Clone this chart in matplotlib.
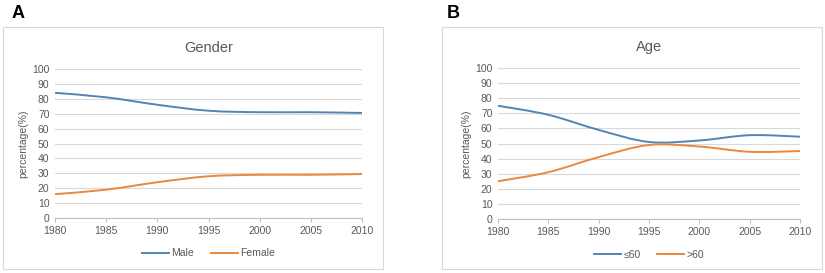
import numpy as np
import matplotlib
matplotlib.use('Agg')
import matplotlib.pyplot as plt
from matplotlib.path import Path
from matplotlib.patches import PathPatch, Rectangle
from matplotlib.lines import Line2D

plt.rcParams['font.family'] = ['Liberation Sans', 'DejaVu Sans']

# data
years = [1980, 1985, 1990, 1995, 2000, 2005, 2010]
male = [84, 81, 76, 72, 71, 71, 70.5]
female = [16, 19, 24, 28, 29, 29, 29.5]
age_le60 = [75, 69, 59, 51, 52, 55.5, 54.5]
age_gt60 = [25, 31, 41, 49, 48, 44.5, 45]

BLUE = '#5384b2'
ORANGE = '#e8893f'
GRID = '#d9d9d9'
TXT = '#595959'


def smooth_path(x, y):
    # Excel-style smoothed line: Catmull-Rom segments as cubic bezier
    x = np.asarray(x, float)
    y = np.asarray(y, float)
    pts = np.column_stack([x, y])
    verts = [pts[0]]
    codes = [Path.MOVETO]
    n = len(pts)
    for i in range(n - 1):
        p0 = pts[i - 1] if i > 0 else pts[i]
        p1 = pts[i]
        p2 = pts[i + 1]
        p3 = pts[i + 2] if i + 2 < n else pts[i + 1]
        c1 = p1 + (p2 - p0) / 6.0
        c2 = p2 - (p3 - p1) / 6.0
        verts += [c1, c2, p2]
        codes += [Path.CURVE4] * 3
    return Path(verts, codes)


def draw_panel(ax, title, s1, s2, lab1, lab2):
    for s, c in [(s1, BLUE), (s2, ORANGE)]:
        ax.add_patch(PathPatch(smooth_path(years, s), fill=False, edgecolor=c, lw=1.4, zorder=3))
    ax.set_xlim(1980, 2010)
    ax.set_ylim(0, 100)
    ax.set_xticks(range(1980, 2011, 5))
    ax.set_yticks(range(0, 101, 10))
    ax.grid(axis='y', color=GRID, lw=0.8)
    ax.set_axisbelow(True)
    for side in ['top', 'right']:
        ax.spines[side].set_visible(False)
    ax.spines['left'].set_visible(False)
    ax.spines['bottom'].set_color('#bfbfbf')
    ax.tick_params(axis='y', length=0, labelsize=7.5, labelcolor=TXT, pad=4)
    ax.tick_params(axis='x', length=3, color='#bfbfbf', labelsize=7.5, labelcolor=TXT, pad=3)
    ax.set_ylabel('percentage(%)', fontsize=7.5, color=TXT, labelpad=3)
    ax.set_title(title, fontsize=10.5, color=TXT, pad=12)
    handles = [Line2D([], [], color=BLUE, lw=1.4), Line2D([], [], color=ORANGE, lw=1.4)]
    ax.legend(handles, [lab1, lab2], loc='upper center', bbox_to_anchor=(0.5, -0.14),
              ncol=2, frameon=False, fontsize=7.5, labelcolor=TXT,
              handlelength=2.6, handletextpad=0.2, columnspacing=1.6)


fig = plt.figure(figsize=(8.25, 2.73), dpi=100)
W, H = 825.0, 273.0

# panel frames
for x0, x1 in [(3, 383), (442, 822)]:
    fig.patches.append(Rectangle((x0 / W, 1 - 269 / H), (x1 - x0) / W, (269 - 27) / H,
                                 transform=fig.transFigure, fill=False,
                                 edgecolor='#d9d9d9', lw=0.8))

axA = fig.add_axes([55 / W, 1 - 218 / H, (362 - 55) / W, (218 - 69) / H])
axB = fig.add_axes([498 / W, 1 - 219 / H, (800 - 498) / W, (219 - 68) / H])

draw_panel(axA, 'Gender', male, female, 'Male', 'Female')
draw_panel(axB, 'Age', age_le60, age_gt60, '\u226460', '>60')

fig.text(12 / W, 1 - 13 / H, 'A', fontsize=13, fontweight='bold', va='center', ha='left')
fig.text(447 / W, 1 - 13 / H, 'B', fontsize=13, fontweight='bold', va='center', ha='left')

fig.savefig('out.png', dpi=100)
